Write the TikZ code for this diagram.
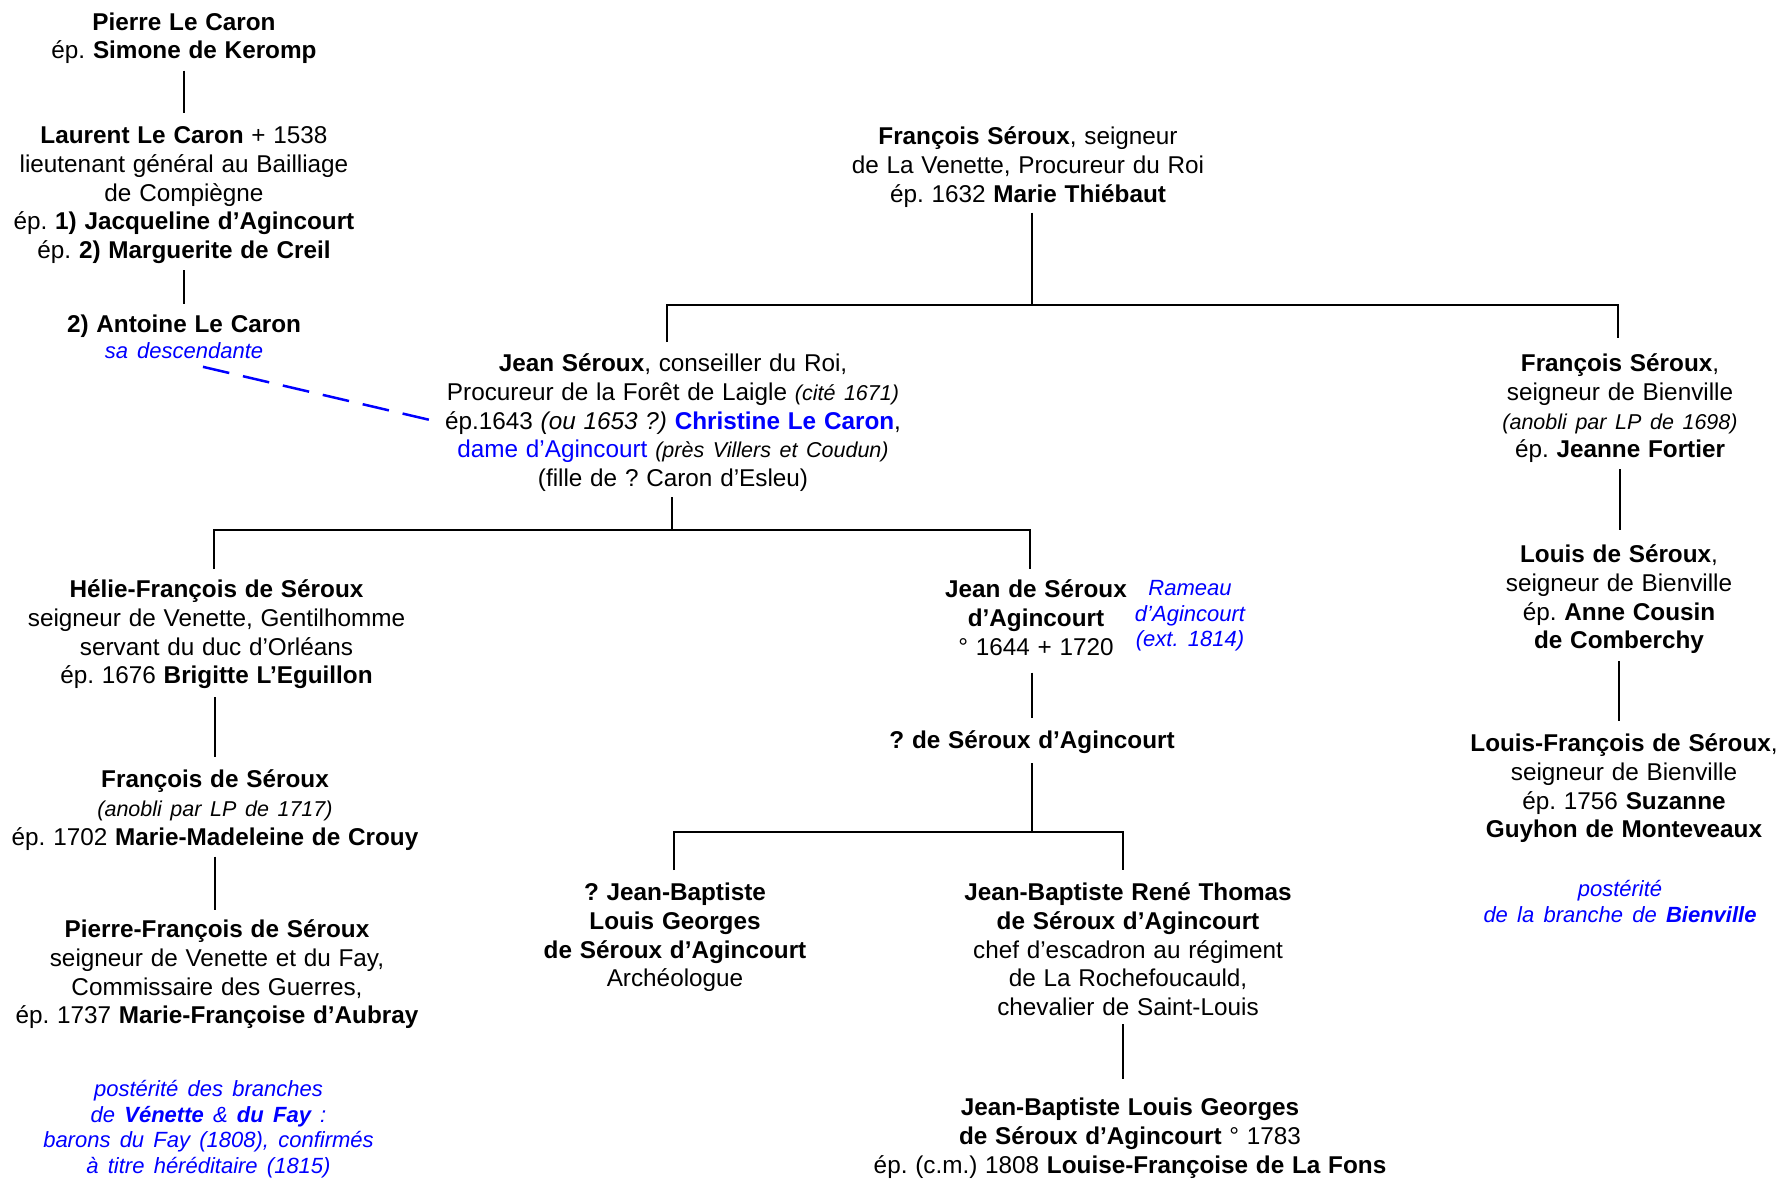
\documentclass[tikz,border=0pt]{standalone}
\usepackage{fontspec}
\setmainfont{Liberation Sans}
\frenchspacing
\definecolor{ablue}{RGB}{0,0,255}
\newcommand\nf{\fontsize{24.3}{28.7}\selectfont\spaceskip=0.32em plus 0.1em\relax}
\newcommand\sif{\fontsize{21.5}{28.7}\selectfont\itshape\spaceskip=0.4em\relax}
\newcommand\bif{\fontsize{22}{25.4}\selectfont\itshape\spaceskip=0.42em\relax}
\newcommand\si[1]{{\sif #1}}
\begin{document}
\begin{tikzpicture}[x=1pt,y=-1pt,
  person/.style={align=center,anchor=north,inner sep=0pt,font=\nf},
  note/.style={align=center,anchor=north,inner sep=0pt,font=\bif,text=ablue},
  conn/.style={line width=2.3pt},
  link/.style={line width=2.5pt,draw=ablue,dash pattern=on 27pt off 14pt}]
\fill[white] (0,0) rectangle (1777,1178);
\useasboundingbox (0,0) rectangle (1777,1178);

% junction coordinates
\coordinate (b1) at (1032,305);
\coordinate (b1l) at (667,305);
\coordinate (b1r) at (1618,305);
\coordinate (b2) at (672,530);
\coordinate (b2l) at (214,530);
\coordinate (b2r) at (1030,530);
\coordinate (b3) at (1032,832);
\coordinate (b3l) at (674,832);
\coordinate (b3r) at (1123,832);

% people
\node[person] (pierre) at (184,10) {\strut\textbf{Pierre Le Caron}\\ ép. \textbf{Simone de Keromp}\strut};
\node[person] (laurent) at (184,123.5) {\strut\textbf{Laurent Le Caron} + 1538\\ lieutenant général au Bailliage\\ de Compiègne\\ ép. \textbf{1) Jacqueline d’Agincourt}\\ ép. \textbf{2) Marguerite de Creil}\strut};
\node[person] (antoine) at (184,312.5) {\strut\textbf{2) Antoine Le Caron}\\[-2.7pt] {\bif\color{ablue}sa descendante\strut}};
\node[person] (fs) at (1028,124.5) {\strut\textbf{François Séroux}, seigneur\\ de La Venette, Procureur du Roi\\ ép. 1632 \textbf{Marie Thiébaut}\strut};
\node[person] (jean) at (673,351.5) {\strut\textbf{Jean Séroux}, conseiller du Roi,\\ Procureur de la Forêt de Laigle \si{(cité 1671)}\\ ép.1643 \textit{(ou 1653 ?)} \textcolor{ablue}{\textbf{Christine Le Caron}},\\ \textcolor{ablue}{dame d’Agincourt} \si{(près Villers et Coudun)}\\ (fille de ? Caron d’Esleu)\strut};
\node[person] (fsb) at (1620,351.5) {\strut\textbf{François Séroux},\\ seigneur de Bienville\\ \si{(anobli par LP de 1698)}\\ ép. \textbf{Jeanne Fortier}\strut};
\node[person] (helie) at (216.5,577.5) {\strut\textbf{Hélie-François de Séroux}\\ seigneur de Venette, Gentilhomme\\ servant du duc d’Orléans\\ ép. 1676 \textbf{Brigitte L’Eguillon}\strut};
\node[person] (jsa) at (1036,577.5) {\strut\textbf{Jean de Séroux}\\ \textbf{d’Agincourt}\\ ° 1644 + 1720\strut};
\node[note] (rameau) at (1190,578) {\strut Rameau\\ d’Agincourt\\ (ext. 1814)\strut};
\node[person] (louis) at (1619,542.5) {\strut\textbf{Louis de Séroux},\\ seigneur de Bienville\\ ép. \textbf{Anne Cousin}\\ \textbf{de Comberchy}\strut};
\node[person] (fds) at (215,767.5) {\strut\textbf{François de Séroux}\\ \si{(anobli par LP de 1717)}\\ ép. 1702 \textbf{Marie-Madeleine de Crouy}\strut};
\node[person] (unk) at (1032,728.5) {\strut\textbf{? de Séroux d’Agincourt}\strut};
\node[person] (lf) at (1624,731.5) {\strut\textbf{Louis-François de Séroux},\\ seigneur de Bienville\\ ép. 1756 \textbf{Suzanne}\\ \textbf{Guyhon de Monteveaux}\strut};
\node[note] (postB) at (1620,879) {\strut postérité\\ de la branche de \textbf{Bienville}\strut};
\node[person] (pf) at (217,917.5) {\strut\textbf{Pierre-François de Séroux}\\ seigneur de Venette et du Fay,\\ Commissaire des Guerres,\\ ép. 1737 \textbf{Marie-Françoise d’Aubray}\strut};
\node[person] (jbl) at (675,880.5) {\strut\textbf{? Jean-Baptiste}\\ \textbf{Louis Georges}\\ \textbf{de Séroux d’Agincourt}\\ Archéologue\strut};
\node[person] (jbr) at (1128,880.5) {\strut\textbf{Jean-Baptiste René Thomas}\\ \textbf{de Séroux d’Agincourt}\\ chef d’escadron au régiment\\ de La Rochefoucauld,\\ chevalier de Saint-Louis\strut};
\node[note] (postV) at (208.5,1079) {\strut postérité des branches\\ de \textbf{Vénette} \& \textbf{du Fay} :\\ barons du Fay (1808), confirmés\\ à titre héréditaire (1815)\strut};
\node[person] (jblg) at (1130,1095.5) {\strut\textbf{Jean-Baptiste Louis Georges}\\ \textbf{de Séroux d’Agincourt} ° 1783\\ ép. (c.m.) 1808 \textbf{Louise-Françoise de La Fons}\strut};

% connectors
\draw[conn,shorten <=2.7pt,shorten >=10.5pt] (pierre.south) -- (laurent.north);
\draw[conn,shorten <=2.7pt,shorten >=8.5pt] (laurent.south) -- (antoine.north);
\draw[link,shorten <=1pt,shorten >=14pt] ([xshift=18pt]antoine.south) -- (jean.west);
\draw[conn,shorten <=1.7pt] (fs.south -| b1) -- (b1);
\draw[conn,line width=2.8pt,shorten <=9.5pt,shorten >=13.5pt] (jean.north -| b1l) -- (b1l) -- (b1r) -- (fsb.north -| b1r);
\draw[conn,shorten <=1.7pt] (jean.south -| b2) -- (b2);
\draw[conn,shorten <=8.5pt,shorten >=8.5pt] (helie.north -| b2l) -- (b2l) -- (b2r) -- (jsa.north -| b2r);
\draw[conn,shorten <=4.7pt,shorten >=10.5pt] (helie.south -| fds.north) -- (fds.north);
\draw[conn,shorten <=2.7pt,shorten >=7.5pt] (fds.south) -- (fds.south |- pf.north);
\draw[conn,shorten <=8.7pt,shorten >=10.5pt] (jsa.south -| unk.north) -- (unk.north);
\draw[conn,shorten <=5.7pt] (unk.south -| b3) -- (b3);
\draw[conn,shorten <=10.5pt,shorten >=10.5pt] (jbl.north -| b3l) -- (b3l) -- (b3r) -- (jbr.north -| b3r);
\draw[conn,shorten >=16.5pt] (jbr.south -| b3r) -- (jblg.north -| b3r);
\draw[conn,shorten <=2.7pt,shorten >=12.5pt] (fsb.south) -- (fsb.south |- louis.north);
\draw[conn,shorten <=3.7pt,shorten >=10.5pt] (louis.south) -- (louis.south |- lf.north);
\end{tikzpicture}
\end{document}
